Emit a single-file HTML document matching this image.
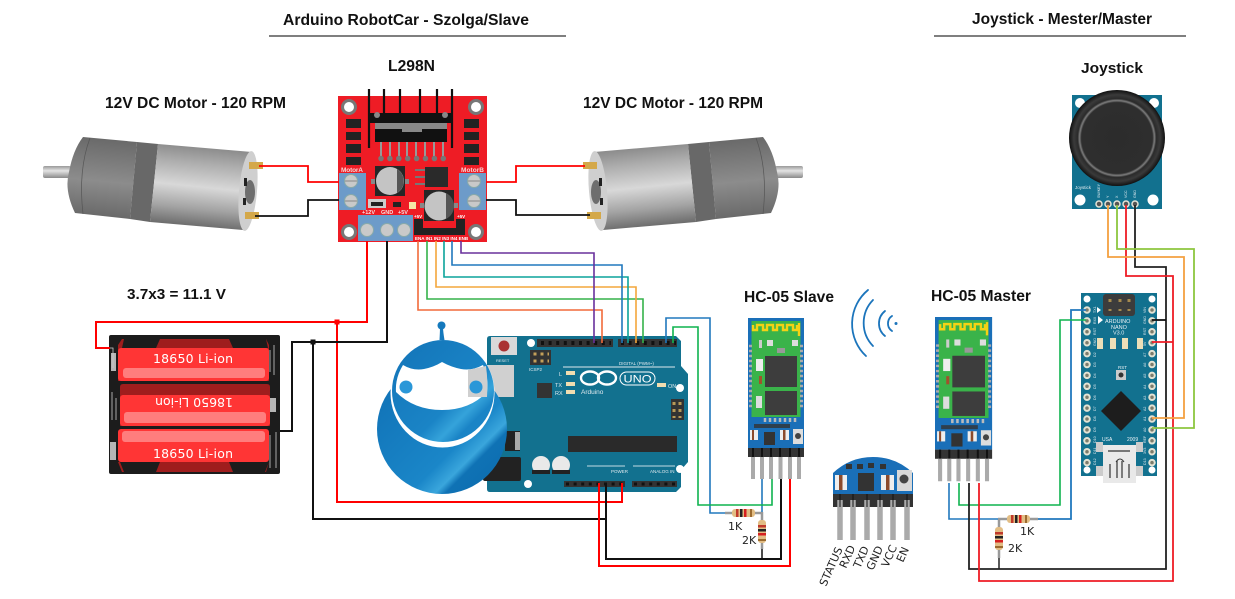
<!DOCTYPE html>
<html><head><meta charset="utf-8"><style>
html,body{margin:0;padding:0;background:#fff}
svg{display:block}
.t{font-family:"Liberation Sans",sans-serif;font-weight:bold;fill:#111}
.d{font-family:"DejaVu Sans",sans-serif}
.w{fill:none;stroke-linejoin:miter}
.s{font-family:"Liberation Sans",sans-serif;fill:#dfe9ee}
</style></head><body>
<svg width="1235" height="599" viewBox="0 0 1235 599" xmlns="http://www.w3.org/2000/svg">
<defs>
<linearGradient id="cyl" gradientUnits="userSpaceOnUse" x1="205" y1="148" x2="197" y2="226"><stop offset="0" stop-color="#8d8d8d"/><stop offset=".2" stop-color="#adadad"/><stop offset=".5" stop-color="#d8d8d8"/><stop offset=".78" stop-color="#a3a3a3"/><stop offset="1" stop-color="#6e6e6e"/></linearGradient>
<linearGradient id="gear" gradientUnits="userSpaceOnUse" x1="110" y1="140" x2="103" y2="216"><stop offset="0" stop-color="#6a6a6a"/><stop offset=".55" stop-color="#8c8c8c"/><stop offset="1" stop-color="#6a6a6a"/></linearGradient>
<linearGradient id="shaft" x1="0" y1="0" x2="0" y2="1"><stop offset="0" stop-color="#999"/><stop offset=".4" stop-color="#e4e4e4"/><stop offset="1" stop-color="#8a8a8a"/></linearGradient>
<linearGradient id="body" x1="0" y1="0" x2="1" y2="1"><stop offset="0" stop-color="#0f6fb4"/><stop offset=".62" stop-color="#1a86c8"/><stop offset=".72" stop-color="#3aa6dc"/><stop offset=".76" stop-color="#0f72b5"/><stop offset="1" stop-color="#0d6cad"/></linearGradient>
<linearGradient id="head" x1="0" y1="0" x2="1" y2="1"><stop offset="0" stop-color="#1374b8"/><stop offset=".6" stop-color="#1a84c6"/><stop offset=".72" stop-color="#35a3da"/><stop offset=".8" stop-color="#1a84c6"/><stop offset="1" stop-color="#1a84c6"/></linearGradient>
<radialGradient id="knob"><stop offset="0" stop-color="#2c2c2c"/><stop offset=".74" stop-color="#2e2e2e"/><stop offset=".78" stop-color="#7d7d7d"/><stop offset=".82" stop-color="#2a2a2a"/><stop offset=".9" stop-color="#3a3a3a"/><stop offset="1" stop-color="#111"/></radialGradient>

<g id="motor">
<rect x="43" y="166" width="28" height="12" rx="2" fill="url(#shaft)"/>
<path d="M83,137 L137,142 L130,219 L75,213 Q64,190 69,172 Q73,150 83,137Z" fill="url(#gear)"/>
<path d="M90,138 Q78,170 83,214 M137,142" fill="none" stroke="#555" stroke-width=".7"/>
<path d="M137,142 L158,144 L150,222 L130,219Z" fill="#686868"/>
<path d="M158,144 L252,152 L243,230 L150,222Z" fill="url(#cyl)"/>
<ellipse cx="248" cy="191" rx="9" ry="40" transform="rotate(5 248 191)" fill="#cfcfcf"/>
<ellipse cx="250" cy="192" rx="5" ry="12" fill="#6e6e6e"/>
<rect x="244" y="178" width="3" height="8" fill="#222"/><rect x="243" y="198" width="3" height="7" fill="#222"/>
<rect x="249" y="162" width="14" height="7" fill="#d4a849"/><rect x="245" y="212" width="14" height="7" fill="#d4a849"/>
</g>

<g id="rh"><rect x="0" y="0" width="23" height="8" rx="3" fill="#e2bd84"/><rect x="4" y="0" width="2.5" height="8" fill="#c0392b"/><rect x="8" y="0" width="2.5" height="8" fill="#222"/><rect x="12" y="0" width="2.5" height="8" fill="#d62020"/><rect x="18" y="0" width="2" height="8" fill="#9c6b30"/></g>
<g id="rv"><rect x="0" y="0" width="8" height="23" rx="3" fill="#e2bd84"/><rect x="0" y="5" width="8" height="2.5" fill="#c0392b"/><rect x="0" y="9" width="8" height="2.5" fill="#222"/><rect x="0" y="13" width="8" height="2.5" fill="#d62020"/><rect x="0" y="19" width="8" height="2" fill="#9c6b30"/></g>

<g id="hc">
<rect x="0" y="0" width="56" height="130" fill="#1a6fb8"/>
<rect x="3.5" y="3" width="49" height="96" fill="#3ab34a"/>
<path d="M5,7 V12 H9 V7 H15 V12 H19 V7 H25 V12 H29 V7 H35 V12 H39 V7 H45 V12 H49 V7 M51,5 V18" fill="none" stroke="#f4d215" stroke-width="2.4"/>
<rect x="17" y="38" width="32" height="31" fill="#3d3d3d"/><rect x="17" y="73" width="32" height="24" fill="#3d3d3d"/>
<rect x="8" y="41" width="7" height="12" fill="#eee"/><rect x="11" y="58" width="3" height="8" fill="#a0522d"/>
<rect x="29" y="30" width="8" height="5" fill="#999"/><rect x="11" y="22" width="3" height="8" fill="#ccc"/><rect x="19" y="22" width="6" height="6" fill="#ddd"/><rect x="44" y="22" width="6" height="6" fill="#ddd"/>
<rect x="8" y="78" width="6" height="12" fill="#ddd"/>
<path d="M17,100 V104 M22,100 V104 M27,100 V104 M32,100 V104 M37,100 V104 M42,100 V104 M47,100 V104" stroke="#bbb" stroke-width="2.5"/>
<path d="M1,28 H4 M1,33 H4 M1,38 H4 M1,43 H4 M1,48 H4 M1,53 H4 M1,58 H4 M1,63 H4 M1,68 H4 M1,73 H4 M1,78 H4 M1,83 H4 M1,88 H4 M52,28 H55 M52,33 H55 M52,38 H55 M52,43 H55 M52,48 H55 M52,53 H55 M52,58 H55 M52,63 H55 M52,68 H55 M52,73 H55 M52,78 H55 M52,83 H55 M52,88 H55" stroke="#aaa" stroke-width="2.4"/>
<rect x="6" y="106" width="36" height="4" fill="#333" opacity=".8"/>
<rect x="2" y="112" width="8" height="10" fill="#eee"/><rect x="4" y="112" width="2" height="10" fill="#8b4a2b"/>
<rect x="32" y="112" width="9" height="10" fill="#eee"/><rect x="35" y="112" width="2.5" height="10" fill="#8b4a2b"/>
<rect x="16" y="114" width="11" height="13" fill="#333"/>
<rect x="45" y="111" width="10" height="15" fill="#ddd"/><circle cx="50" cy="118" r="3" fill="#444"/>
<rect x="0" y="130" width="56" height="9" fill="#333"/>
<path d="M5,130 V139 M14,130 V139 M23,130 V139 M32,130 V139 M42,130 V139 M51,130 V139" stroke="#111" stroke-width="2"/>
<path d="M5,139 V161 M14,139 V161 M23,139 V161 M32.500,139 V161 M42,139 V161 M51,139 V161" stroke="#aaa" stroke-width="4"/>
</g>
</defs>

<rect width="1235" height="599" fill="#fff"/>

<!-- titles -->
<text class="t" x="283" y="25" font-size="15.500" textLength="246" lengthAdjust="spacingAndGlyphs">Arduino RobotCar - Szolga/Slave</text>
<line x1="269" y1="36" x2="566" y2="36" stroke="#333" stroke-width="1.2"/>
<text class="t" x="972" y="24" font-size="15.500" textLength="180" lengthAdjust="spacingAndGlyphs">Joystick - Mester/Master</text>
<line x1="934" y1="36" x2="1186" y2="36" stroke="#333" stroke-width="1.2"/>
<text class="t" x="388" y="71" font-size="16" textLength="47" lengthAdjust="spacingAndGlyphs">L298N</text>
<text class="t" x="105" y="108" font-size="16" textLength="181" lengthAdjust="spacingAndGlyphs">12V DC Motor - 120 RPM</text>
<text class="t" x="583" y="108" font-size="16" textLength="180" lengthAdjust="spacingAndGlyphs">12V DC Motor - 120 RPM</text>
<text class="t" x="127" y="299" font-size="15" textLength="99" lengthAdjust="spacingAndGlyphs">3.7x3 = 11.1 V</text>
<text class="t" x="1081" y="73" font-size="15" textLength="62" lengthAdjust="spacingAndGlyphs">Joystick</text>
<text class="t" x="744" y="302" font-size="16" textLength="90" lengthAdjust="spacingAndGlyphs">HC-05 Slave</text>
<text class="t" x="931" y="301" font-size="16" textLength="100" lengthAdjust="spacingAndGlyphs">HC-05 Master</text>

<!-- motors -->
<use href="#motor"/>
<use href="#motor" transform="matrix(-1,0,0,1,846,0)"/>

<!-- Battery -->
<rect x="109" y="335" width="171" height="139" rx="2" fill="#1c1c1c"/>
<path d="M122,339 H266 L269,345 V381 H118 V345Z" fill="#9f1d1d"/>
<path d="M124,339 H160 L156,348 H122Z M229,339 H266 L268,348 H233Z" fill="#1c1c1c"/>
<rect x="118" y="348" width="151" height="33" rx="3" fill="#ff3535"/>
<rect x="123" y="368" width="142" height="10" rx="3" fill="#ff7d7d"/>
<path d="M120,387 Q120,384 123,384 H267 Q270,384 270,387 V426 H120Z" fill="#9f1d1d"/>
<rect x="120" y="395" width="150" height="31" rx="3" fill="#ff3535"/>
<rect x="124" y="412" width="142" height="11" rx="3" fill="#ff7d7d"/>
<rect x="118" y="429" width="151" height="33" rx="3" fill="#ff3535"/>
<rect x="122" y="431" width="143" height="11" rx="3" fill="#ff7d7d"/>
<path d="M118,462 H269 L266,472 H122Z" fill="#9f1d1d"/>
<path d="M120,462 H160 L156,472 H124Z M229,462 H269 L265,472 H233Z" fill="#1c1c1c"/>
<rect x="111" y="353" width="5" height="18" fill="#b5b5b5"/><rect x="110" y="442" width="6" height="18" fill="#b5b5b5"/><rect x="270" y="398" width="6" height="14" fill="#b5b5b5"/>
<path d="M110,348 H113 V368 M274,345 V375 M270,350 V372 M112,392 V420 M116,398 V420 M270,435 V468 M276,432 V468" stroke="#ccc" stroke-width=".8" fill="none"/>
<text class="d" x="153" y="363" font-size="12.500" fill="#fff" textLength="80">18650 Li-ion</text>
<text class="d" x="0" y="0" font-size="12.500" fill="#fff" textLength="78" transform="translate(233,398) rotate(180)">18650 Li-ion</text>
<text class="d" x="153" y="458" font-size="12.500" fill="#fff" textLength="80">18650 Li-ion</text>

<!-- Arduino UNO -->
<path d="M490,336 H676 L681,341 V366 L688,374 V462 L681,470 V487 L676,492 H490 Q487,492 487,489 V339 Q487,336 490,336Z" fill="#12718f"/>
<rect x="491" y="337" width="26" height="18" fill="#d9d9d9"/><circle cx="504" cy="346" r="5.500" fill="#a33"/>
<text class="s" x="496" y="362" font-size="4">RESET</text>
<circle cx="531" cy="343" r="4" fill="#fff"/><circle cx="680" cy="388" r="4" fill="#fff"/><circle cx="680" cy="469" r="4" fill="#fff"/><circle cx="528" cy="484" r="4" fill="#fff"/>
<rect x="537" y="339" width="76" height="8" fill="#333"/><rect x="618" y="339" width="59" height="8" fill="#333"/>
<line x1="541" y1="343" x2="611" y2="343" stroke="#111" stroke-width="4" stroke-dasharray="3 4.600"/>
<line x1="621" y1="343" x2="676" y2="343" stroke="#111" stroke-width="4" stroke-dasharray="3 4.600"/>
<rect x="564" y="481" width="61" height="6" fill="#333"/><rect x="632" y="481" width="45" height="6" fill="#333"/>
<line x1="566" y1="484" x2="625" y2="484" stroke="#111" stroke-width="3" stroke-dasharray="3 4.600"/>
<line x1="634" y1="484" x2="677" y2="484" stroke="#111" stroke-width="3" stroke-dasharray="3 4.600"/>
<rect x="530" y="350" width="21" height="15" fill="#333"/>
<path d="M533.500,354 H549 M533.500,361 H549" stroke="#c4a05a" stroke-width="3" stroke-dasharray="3 4"/>
<text class="s" x="529" y="371" font-size="4.500">ICSP2</text>
<rect x="537" y="383" width="15" height="15" fill="#333"/>
<rect x="566" y="371" width="9" height="4" fill="#f1ddb0"/><rect x="566" y="382" width="9" height="4" fill="#f1ddb0"/><rect x="566" y="390" width="9" height="4" fill="#f1ddb0"/><rect x="657" y="383" width="9" height="4" fill="#f1ddb0"/>
<text class="s" x="559" y="376" font-size="5.500">L</text><text class="s" x="555" y="387" font-size="5.500">TX</text><text class="s" x="555" y="395" font-size="5.500">RX</text><text class="s" x="668" y="388" font-size="5.500">ON</text>
<line x1="563" y1="367" x2="675" y2="367" stroke="#dfe9ee" stroke-width="1"/>
<text class="s" x="619" y="365" font-size="4.500">DIGITAL (PWM~)</text>
<ellipse cx="590" cy="378" rx="9" ry="6.500" fill="none" stroke="#fff" stroke-width="2.400"/><ellipse cx="607" cy="378" rx="9" ry="6.500" fill="none" stroke="#fff" stroke-width="2.400"/>
<rect x="620" y="372" width="35" height="13" rx="6.500" fill="none" stroke="#fff" stroke-width="1"/>
<text x="623.500" y="382.500" font-size="11" fill="#fff" font-family="Liberation Sans,sans-serif" textLength="28" lengthAdjust="spacingAndGlyphs">UNO</text>
<text x="581" y="394" font-size="6.500" fill="#dfe9ee" font-family="Liberation Sans,sans-serif">Arduino</text>
<rect x="671" y="399" width="13" height="21" fill="#333"/>
<path d="M674,402 V418 M680,402 V418" stroke="#b89a58" stroke-width="3" stroke-dasharray="3 4"/>
<rect x="568" y="436" width="109" height="16" fill="#2a2a2a"/>
<circle cx="541" cy="465" r="9" fill="#e9e9e9"/><circle cx="561" cy="465" r="9" fill="#e9e9e9"/>
<path d="M532,470 H550 V474 H532Z M552,470 H570 V474 H552Z" fill="#222"/>
<line x1="587" y1="466" x2="625" y2="466" stroke="#fff" stroke-width=".8"/><line x1="633" y1="466" x2="675" y2="466" stroke="#fff" stroke-width=".8"/>
<text class="s" x="611" y="473" font-size="4.500">POWER</text><text class="s" x="650" y="473" font-size="4.500">ANALOG IN</text>
<rect x="468" y="365" width="46" height="32" fill="#d0d0d0"/>
<rect x="505" y="431" width="15" height="20" fill="#222"/><rect x="515" y="432" width="5" height="18" fill="#aaa"/>
<rect x="483" y="457" width="38" height="24" rx="2" fill="#222"/>

<!-- Robot logo -->
<circle cx="442" cy="429" r="65" fill="url(#body)"/>
<ellipse cx="442.500" cy="393" rx="52" ry="54.500" fill="#fff"/>
<path d="M439.500,340 Q440,331 440,327 L443,327 Q443,331 444.500,340Z" fill="#1479bd"/><circle cx="441.500" cy="325.500" r="4" fill="#1479bd"/>
<circle cx="443" cy="391" r="51" fill="url(#head)"/>
<path d="M403,365 Q413,371 424,369 Q434,367 442,362 Q451,367 461,369 Q472,371 483,365 Q489,378 487,392 Q470,410 442,410 Q414,410 396,392 Q395,378 403,365Z" fill="#fff"/>
<path d="M468,370 L486,366 Q488,380 487,397 H468Z" fill="#cfcfcf"/>
<circle cx="406" cy="387" r="6.500" fill="#2a97d8"/><circle cx="476" cy="387" r="6.500" fill="#2a97d8"/>

<!-- Resistors -->
<line x1="725" y1="513" x2="762" y2="513" stroke="#999" stroke-width="2.500"/>
<line x1="762" y1="512" x2="762" y2="549" stroke="#999" stroke-width="2.500"/>
<use href="#rh" x="732" y="509"/><use href="#rv" x="758" y="520"/>
<line x1="998" y1="519" x2="1038" y2="519" stroke="#999" stroke-width="2.500"/>
<line x1="999" y1="519" x2="999" y2="558" stroke="#999" stroke-width="2.500"/>
<use href="#rh" x="1007" y="515"/><use href="#rv" x="995" y="527"/>
<text class="d" x="728" y="530" font-size="11" fill="#222">1K</text>
<text class="d" x="742" y="544" font-size="11" fill="#222">2K</text>
<text class="d" x="1020" y="535" font-size="11" fill="#222">1K</text>
<text class="d" x="1008" y="552" font-size="11" fill="#222">2K</text>

<!-- L298N -->
<rect x="338" y="96" width="149" height="146" fill="#ee1c25"/>
<path d="M369,89 V148 M384,89 V113 M400,89 V113 M420,89 V113 M437,89 V113 M452,89 V148" stroke="#111" stroke-width="2.200" fill="none"/>
<rect x="369" y="113" width="83" height="10" fill="#111"/>
<circle cx="377" cy="115" r="3" fill="#888"/><circle cx="445" cy="115" r="3" fill="#888"/>
<rect x="375" y="123" width="72" height="19" fill="#111"/><rect x="375" y="123" width="72" height="6" fill="#888"/><rect x="402" y="129" width="20" height="3" fill="#888"/>
<path d="M381,142 V158 M390,142 V158 M399,142 V158 M407,142 V158 M416,142 V158 M425,142 V158 M434,142 V158 M443,142 V158" stroke="#999" stroke-width="2"/>
<line x1="381" y1="158.500" x2="444" y2="158.500" stroke="#777" stroke-width="5.500" stroke-linecap="round" stroke-dasharray="0 8.900"/>
<g fill="#fff" stroke="#777" stroke-width="3"><circle cx="349" cy="107" r="6.500"/><circle cx="476" cy="107" r="6.500"/><circle cx="349" cy="232" r="6.500"/><circle cx="476" cy="232" r="6.500"/></g>
<g fill="#222"><rect x="346" y="119" width="15" height="9"/><rect x="346" y="132" width="15" height="8"/><rect x="346" y="144" width="15" height="9"/><rect x="346" y="157" width="15" height="8"/><rect x="464" y="119" width="15" height="9"/><rect x="464" y="132" width="15" height="8"/><rect x="464" y="144" width="15" height="9"/><rect x="464" y="157" width="15" height="8"/></g>
<rect x="339" y="173" width="27" height="37" fill="#6d9bc9"/><rect x="459" y="173" width="27" height="37" fill="#6d9bc9"/>
<g fill="#c9c9c9" stroke="#8aa" stroke-width="1"><circle cx="351" cy="181" r="6.500"/><circle cx="351" cy="201" r="6.500"/><circle cx="474" cy="181" r="6.500"/><circle cx="474" cy="201" r="6.500"/></g>
<path d="M345,181 H357 M345,201 H357 M468,181 H480 M468,201 H480" stroke="#888" stroke-width="1"/>
<text x="341" y="172" font-size="6.500" font-weight="bold" fill="#f6d5d5" font-family="Liberation Sans,sans-serif" textLength="22">MotorA</text>
<text x="461" y="172" font-size="6.500" font-weight="bold" fill="#f6d5d5" font-family="Liberation Sans,sans-serif" textLength="23">MotorB</text>
<rect x="375" y="166" width="30" height="30" fill="#262626"/>
<circle cx="390" cy="181" r="14" fill="#c4c4c4"/><path d="M397,169 A14,14 0 0 1 397,193Z" fill="#555"/>
<rect x="371" y="179" width="4" height="5" fill="#888"/><rect x="405" y="179" width="4" height="5" fill="#888"/>
<rect x="425" y="167" width="23" height="20" fill="#2a2a2a"/><path d="M415,170 H425 M415,177 H425 M415,184 H425" stroke="#777" stroke-width="2"/>
<rect x="424" y="190" width="30" height="31" fill="#262626"/>
<circle cx="439" cy="206" r="14.500" fill="#c4c4c4"/><path d="M446,193 A14.500,14.500 0 0 1 446,219Z" fill="#555"/>
<rect x="420" y="203" width="4" height="5" fill="#888"/><rect x="454" y="203" width="4" height="5" fill="#888"/>
<rect x="368" y="199" width="18" height="9" fill="#ccc"/><rect x="371" y="202" width="12" height="4" fill="#222"/>
<rect x="393" y="202" width="8" height="5" fill="#222"/><rect x="409" y="202" width="7" height="7" fill="#f4e6a8"/>
<g fill="#f6e0e0" font-size="5.500" font-family="Liberation Sans,sans-serif" font-weight="bold"><text x="362" y="214">+12V</text><text x="381" y="214">GND</text><text x="398" y="214">+5V</text></g>
<rect x="358" y="215" width="55" height="26" fill="#6d9bc9"/>
<g fill="#c9c9c9" stroke="#8aa"><circle cx="367" cy="230" r="6.500"/><circle cx="387" cy="230" r="6.500"/><circle cx="404" cy="230" r="6.500"/></g>
<rect x="414" y="228" width="51" height="7" fill="#222"/><rect x="414" y="219" width="9" height="9" fill="#222"/><rect x="456" y="219" width="9" height="9" fill="#222"/>
<g fill="#fff" font-size="4.500" font-weight="bold" font-family="Liberation Sans,sans-serif"><text x="415" y="240">ENA IN1 IN2 IN3 IN4 ENB</text><text x="414" y="218">+5V</text><text x="457" y="218">+5V</text></g>

<!-- Wires L298N left/right motors -->
<path class="w" d="M259,166 H308 V182 H339" stroke="#f00" stroke-width="1.800"/>
<path class="w" d="M255,216 H308 V200 H339" stroke="#111" stroke-width="1.800"/>
<path class="w" d="M486,182 H516 V166 H585" stroke="#f00" stroke-width="1.800"/>
<path class="w" d="M486,200 H516 V215 H590" stroke="#111" stroke-width="1.800"/>

<!-- power wires -->
<path class="w" d="M367,241 V322 H96 V348 H110" stroke="#f00" stroke-width="2"/>
<path class="w" d="M337,322 V502 H622 V483" stroke="#f00" stroke-width="2"/>
<rect x="334.500" y="319.500" width="5" height="5" fill="#f00"/>
<path class="w" d="M387,241 V342 H292 V431 H280" stroke="#111" stroke-width="2"/>
<path class="w" d="M313,342 V519 H606" stroke="#111" stroke-width="2"/>
<rect x="310.500" y="339.500" width="5" height="5" fill="#111"/>

<!-- logic wires -->
<path class="w" d="M418,241 V310 H602 V343" stroke="#f26a3a" stroke-width="1.600"/>
<path class="w" d="M427,241 V299 H643 V343" stroke="#35b24a" stroke-width="1.600"/>
<path class="w" d="M436,241 V287 H636 V343" stroke="#f4a73c" stroke-width="1.600"/>
<path class="w" d="M444,241 V277 H628 V343" stroke="#0ba39b" stroke-width="1.600"/>
<path class="w" d="M452,241 V265 H622 V343" stroke="#2178bd" stroke-width="1.600"/>
<path class="w" d="M461,241 V253 H594 V343" stroke="#69309c" stroke-width="1.600"/>

<!-- HC-05 -->
<use href="#hc" x="748" y="318"/>
<g transform="translate(935,317) scale(1.02,1.02)"><use href="#hc"/></g>

<!-- slave wires -->
<path class="w" d="M666,343 V318 H710 V513 H725" stroke="#2178bd" stroke-width="1.600"/>
<path class="w" d="M762,479 V512" stroke="#2178bd" stroke-width="1.600"/>
<path class="w" d="M673,343 V327 H698 V505 H772 V479" stroke="#0fb34f" stroke-width="1.600"/>
<path class="w" d="M599,483 V566 H790 V479" stroke="#f00" stroke-width="2"/>
<path class="w" d="M606,483 V559 H781 V479" stroke="#111" stroke-width="2"/>
<line x1="762" y1="549" x2="762" y2="559" stroke="#111" stroke-width="1.500"/>

<!-- WiFi -->
<g fill="none" stroke="#1c75bc" stroke-width="1.800" stroke-linecap="round">
<path d="M866,356 A44,44 0 0 1 868,290"/>
<path d="M873,346 A33,33 0 0 1 873,300"/>
<path d="M885,336 A16,16 0 0 1 885,311"/>
<path d="M892,331 A9,9 0 0 1 892,316"/>
</g>
<circle cx="896" cy="323.500" r="1.500" fill="#1c75bc"/>

<!-- HC-05 breakout -->
<path d="M833,473 Q850,457 873,457 Q896,457 913,473 V494 H833Z" fill="#1a6fb8"/>
<rect x="846" y="464" width="6" height="5" fill="#333"/><rect x="857" y="464" width="6" height="5" fill="#333"/><rect x="868" y="463" width="6" height="5" fill="#333"/><rect x="880" y="464" width="6" height="5" fill="#333"/>
<rect x="835" y="475" width="12" height="15" fill="#eee"/><rect x="839" y="475" width="3.500" height="15" fill="#8b4a2b"/>
<rect x="881" y="475" width="13" height="15" fill="#eee"/><rect x="886" y="475" width="3.500" height="15" fill="#8b4a2b"/>
<rect x="858" y="473" width="16" height="18" fill="#333"/>
<rect x="897" y="470" width="15" height="21" fill="#d8d8d8"/><circle cx="904" cy="479" r="4.500" fill="#444"/>
<rect x="833" y="494" width="80" height="13" fill="#333"/>
<path d="M840,500 V540 M853,500 V540 M867,500 V540 M880,500 V540 M893,500 V540 M907,500 V540" stroke="#aaa" stroke-width="5.500"/>
<path d="M840,494 V507 M853,494 V507 M867,494 V507 M880,494 V507 M893,494 V507 M907,494 V507" stroke="#111" stroke-width="1"/>
<g class="d" font-size="11" fill="#222">
<text transform="translate(826,587) rotate(-66)">STATUS</text>
<text transform="translate(846,569) rotate(-66)">RXD</text>
<text transform="translate(860,569) rotate(-66)">TXD</text>
<text transform="translate(873,571) rotate(-66)">GND</text>
<text transform="translate(888,568) rotate(-66)">VCC</text>
<text transform="translate(903,563) rotate(-66)">EN</text>
</g>

<!-- Joystick -->
<rect x="1072" y="95" width="90" height="114" fill="#12718f"/>
<circle cx="1080" cy="103" r="5" fill="#fff"/><circle cx="1154" cy="103" r="5" fill="#fff"/><circle cx="1080" cy="200" r="5.500" fill="#fff"/><circle cx="1153" cy="200" r="5.500" fill="#fff"/>
<circle cx="1117" cy="138" r="48" fill="url(#knob)"/>
<text x="1075" y="189" font-size="4.500" fill="#e6eef2" font-family="Liberation Sans,sans-serif">Joystick</text>
<g fill="#e6eef2" font-size="3.600" font-family="Liberation Sans,sans-serif"><text transform="translate(1100,198) rotate(-90)">SW/KEY</text><text transform="translate(1109,198) rotate(-90)">Y</text><text transform="translate(1118,198) rotate(-90)">X</text><text transform="translate(1127,198) rotate(-90)">VCC</text><text transform="translate(1136,198) rotate(-90)">GND</text></g>
<g fill="#555" stroke="#e5e5d8" stroke-width="1.500"><circle cx="1099" cy="204" r="3"/><circle cx="1108" cy="204" r="3"/><circle cx="1117" cy="204" r="3"/><circle cx="1126" cy="204" r="3"/><circle cx="1135" cy="204" r="3"/></g>

<!-- Nano -->
<rect x="1081" y="293" width="76" height="183" fill="#12718f"/>
<circle cx="1087" cy="299" r="3.500" fill="#fff"/><circle cx="1152" cy="299" r="3.500" fill="#fff"/>
<circle cx="1087" cy="470" r="3.500" fill="#fff"/><circle cx="1152" cy="470" r="3.500" fill="#fff"/>
<rect x="1103" y="294" width="32" height="22" rx="3" fill="#3c3c3c"/>
<path d="M1110,299 V311 M1120,299 V311 M1129,299 V311" stroke="#a58a4e" stroke-width="3" stroke-dasharray="3 7"/>
<line x1="1087" y1="310" x2="1087" y2="463" stroke="#e3e3d4" stroke-width="7.500" stroke-linecap="round" stroke-dasharray="0 10.900"/>
<line x1="1152" y1="310" x2="1152" y2="463" stroke="#e3e3d4" stroke-width="7.500" stroke-linecap="round" stroke-dasharray="0 10.900"/>
<line x1="1087" y1="310" x2="1087" y2="463" stroke="#7c7c6c" stroke-width="3.500" stroke-linecap="round" stroke-dasharray="0 10.900"/>
<line x1="1152" y1="310" x2="1152" y2="463" stroke="#7c7c6c" stroke-width="3.500" stroke-linecap="round" stroke-dasharray="0 10.900"/>
<path d="M1097,307 V313 L1101,310Z M1103,320 L1098,316 V324Z" fill="#fff"/>
<g fill="#e8f0f4" font-family="Liberation Sans,sans-serif"><text x="1105" y="323" font-size="5.500">ARDUINO</text><text x="1111" y="329" font-size="5.500">NANO</text><text x="1113" y="334.500" font-size="5.500">V3.0</text><text x="1118" y="369" font-size="4.500">RST</text><text x="1102" y="441" font-size="5">USA</text><text x="1127" y="441" font-size="5">2009</text></g>
<g fill="#dfe9ee" font-size="3.600" font-family="Liberation Sans,sans-serif"><text transform="translate(1096,313) rotate(-90)">TX1</text><text transform="translate(1096,324) rotate(-90)">RX0</text><text transform="translate(1096,335) rotate(-90)">RST</text><text transform="translate(1096,346) rotate(-90)">GND</text><text transform="translate(1096,357) rotate(-90)">D2</text><text transform="translate(1096,367) rotate(-90)">D3</text><text transform="translate(1096,378) rotate(-90)">D4</text><text transform="translate(1096,389) rotate(-90)">D5</text><text transform="translate(1096,400) rotate(-90)">D6</text><text transform="translate(1096,411) rotate(-90)">D7</text><text transform="translate(1096,421) rotate(-90)">D8</text><text transform="translate(1096,432) rotate(-90)">D9</text><text transform="translate(1096,443) rotate(-90)">D10</text><text transform="translate(1096,454) rotate(-90)">D11</text><text transform="translate(1096,465) rotate(-90)">D12</text>
<text transform="translate(1146,313) rotate(-90)">VIN</text><text transform="translate(1146,324) rotate(-90)">GND</text><text transform="translate(1146,335) rotate(-90)">RST</text><text transform="translate(1146,346) rotate(-90)">5V</text><text transform="translate(1146,357) rotate(-90)">A7</text><text transform="translate(1146,367) rotate(-90)">A6</text><text transform="translate(1146,378) rotate(-90)">A5</text><text transform="translate(1146,389) rotate(-90)">A4</text><text transform="translate(1146,400) rotate(-90)">A3</text><text transform="translate(1146,411) rotate(-90)">A2</text><text transform="translate(1146,421) rotate(-90)">A1</text><text transform="translate(1146,432) rotate(-90)">A0</text><text transform="translate(1146,443) rotate(-90)">REF</text><text transform="translate(1146,454) rotate(-90)">3V3</text><text transform="translate(1146,465) rotate(-90)">D13</text></g>
<g fill="#ecdfb8"><rect x="1097" y="338" width="6" height="11"/><rect x="1110" y="338" width="6" height="11"/><rect x="1122" y="338" width="6" height="11"/><rect x="1137" y="338" width="6" height="11"/></g>
<rect x="1116" y="370" width="10" height="10" fill="#ccc"/><circle cx="1121" cy="375" r="2.500" fill="#333"/>
<path d="M1121,391 L1141,411 L1121,431 L1101,411Z" fill="#1d1d1d"/>
<rect x="1096" y="442" width="7" height="10" fill="#ccc"/><rect x="1136" y="442" width="7" height="10" fill="#ccc"/><rect x="1096" y="466" width="7" height="10" fill="#ccc"/><rect x="1136" y="466" width="7" height="10" fill="#ccc"/>
<rect x="1103" y="445" width="33" height="38" fill="#e9e9e9"/>
<path d="M1108,451 H1130 M1110,464 V478 M1117,461 V478 M1122,461 V478 M1129,464 V478" stroke="#333" stroke-width="1.200"/>
<path d="M1116,462 Q1120,456 1124,462" fill="none" stroke="#333"/>

<!-- master wires -->
<path class="w" d="M949,483 V519 H998" stroke="#2178bd" stroke-width="1.600"/>
<path class="w" d="M1038,519 H1071 V310 H1086" stroke="#2178bd" stroke-width="1.800"/>
<path class="w" d="M959,483 V505 H1060 V320 H1086" stroke="#0fb34f" stroke-width="1.600"/>
<path class="w" d="M969,483 V569 H1166 V267 H1135 V205" stroke="#222" stroke-width="1.800"/>
<line x1="1152" y1="320" x2="1166" y2="320" stroke="#111" stroke-width="1.800"/>
<path class="w" d="M979,483 V581 H1173 V276 H1126 V205" stroke="#ee1c25" stroke-width="1.800"/>
<line x1="1152" y1="342" x2="1173" y2="342" stroke="#ee1c25" stroke-width="1.800"/>
<path class="w" d="M1108,205 V257 H1184 V418 H1152" stroke="#f4a040" stroke-width="1.800"/>
<path class="w" d="M1117,205 V249 H1194 V428 H1152" stroke="#8dc63f" stroke-width="1.800"/>
<line x1="999" y1="558" x2="999" y2="569" stroke="#222" stroke-width="1.500"/>
</svg>
</body></html>
